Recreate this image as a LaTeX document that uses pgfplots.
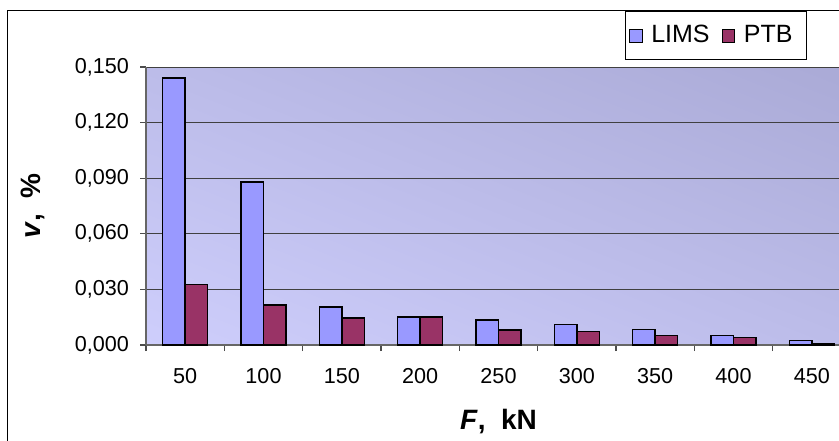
\documentclass[border=0pt]{standalone}
\usepackage{fontspec}
\setmainfont{Liberation Sans}
\usepackage{pgfplots}
\usetikzlibrary{shadings}
\pgfplotsset{compat=1.18}
\definecolor{lims}{RGB}{153,153,255}
\definecolor{ptb}{RGB}{153,51,102}
\definecolor{bgL}{RGB}{206,206,252}
\definecolor{bgD}{RGB}{170,170,214}
\definecolor{bgM}{RGB}{188,188,233}
\begin{document}
\begin{tikzpicture}
\useasboundingbox (0,0) rectangle (419.5pt,220pt);
\clip (0,0) rectangle (419.5pt,220pt);
\fill[white] (0,0) rectangle (419.5pt,220pt);
\begin{axis}[
  at={(73pt,47.5pt)}, anchor=south west,
  scale only axis, width=352.5pt, height=139pt,
  xmin=-0.5, xmax=8.5, ymin=0, ymax=0.15,
  ybar=0pt, bar width=11.25pt,
  axis background/.style={shade, lower left=bgL, upper right=bgD, upper left=bgM, lower right=bgM},
  axis x line*=bottom, axis y line*=left,
  axis line style={-, draw=black!60, line width=0.6pt},
  tick align=outside, major tick length=3pt,
  tick style={black!70, line width=0.6pt},
  ytick={0,0.03,0.06,0.09,0.12,0.15},
  ymajorgrids, grid style={black!75, line width=0.5pt},
  /pgf/number format/assume math mode=true,
  ticklabel style={font=\fontsize{10.8}{12}\selectfont},
  yticklabel style={xshift=-2pt, /pgf/number format/.cd, fixed, fixed zerofill, precision=3, use comma},
  xtick={-0.5,0.5,1.5,2.5,3.5,4.5,5.5,6.5,7.5},
  xticklabels={},
  extra x ticks={0,1,2,3,4,5,6,7,8},
  extra x tick labels={50,100,150,200,250,300,350,400,450},
  extra x tick style={major tick length=0pt, xticklabel style={yshift=-8pt}},
  xlabel={\textbf{\textit{F}},\ \ \textbf{kN}},
  xlabel style={font=\fontsize{14}{16}\selectfont\bfseries, at={(axis description cs:0.5,-0.276)}, anchor=center},
  ylabel={\textbf{\textit{v}},\ \ \textbf{\%}},
  ylabel style={font=\fontsize{14}{16}\selectfont\bfseries, at={(axis description cs:-0.1603,0.5)}, anchor=center},
  legend style={at={(0.9376,1.2016)}, anchor=north east, legend columns=2, draw=black, line width=0.5pt,
    font=\fontsize{12.5}{14}\selectfont, inner xsep=2pt, inner ysep=5pt},
  legend image code/.code={\draw[#1, line width=0.5pt] (0pt,-3.2pt) rectangle (6.4pt,3.2pt); \path (8.5pt,0pt);},
]
\addplot[fill=lims, draw=black, line width=0.75pt] coordinates {
 (0,0.144) (1,0.088) (2,0.0205) (3,0.0152) (4,0.0135) (5,0.011) (6,0.0084) (7,0.0052) (8,0.0023)};
\addplot[fill=ptb, draw=black, line width=0.75pt] coordinates {
 (0,0.0327) (1,0.0216) (2,0.0145) (3,0.0152) (4,0.0082) (5,0.0073) (6,0.0052) (7,0.0041) (8,0.0008)};
\legend{LIMS\hspace*{4pt},PTB\hspace*{3pt}}
\end{axis}
\draw[black, line width=0.5pt] (3.5pt,-10pt) rectangle (430pt,214.5pt);
\end{tikzpicture}
\end{document}
